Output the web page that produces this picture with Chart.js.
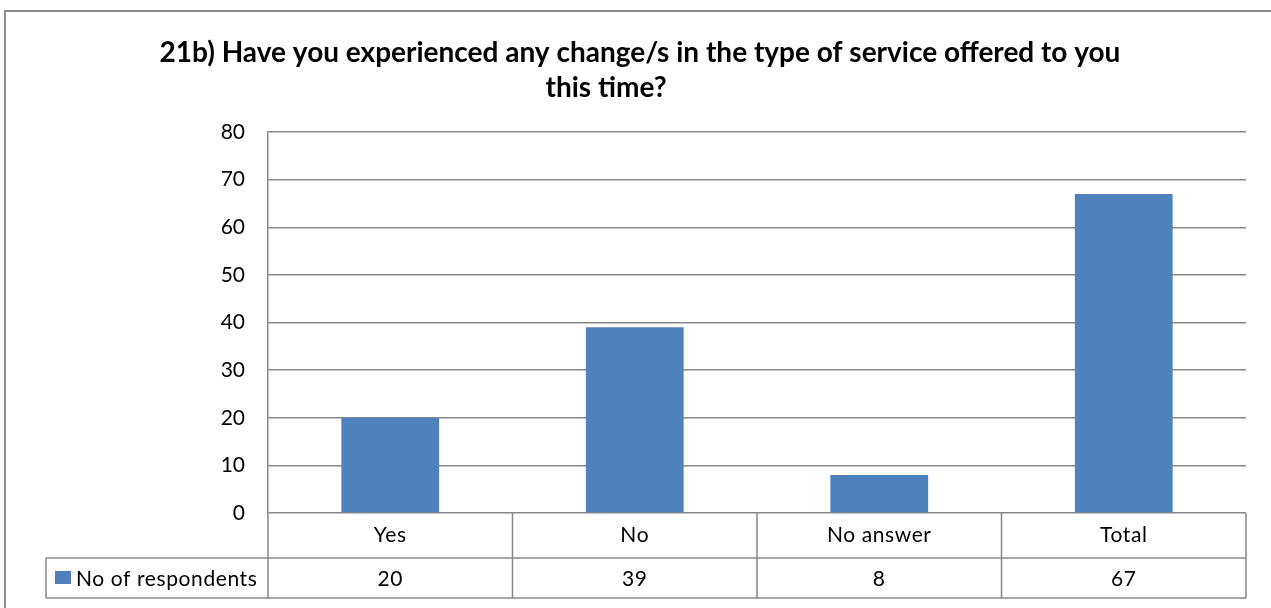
<!DOCTYPE html>
<html>
<head>
<meta charset="utf-8">
<script src="https://cdn.jsdelivr.net/npm/chart.js@4/dist/chart.umd.min.js"></script>
<style>
    html, body { margin: 0; padding: 0; background: #fff; overflow: hidden; }
    #wrap { width: 1271px; height: 608px; position: relative; }
</style>
</head>
<body>
<div id="wrap"><canvas id="chart" width="1271" height="608"></canvas></div>
<script>
// Data
const categories = ['Yes', 'No', 'No answer', 'Total'];
const respondents = [20, 39, 8, 67];
const seriesName = 'No of respondents';
const titleLines = [
    '21b) Have you experienced any change/s in the type of service offered to you',
    'this time?'
];
const yMin = 0, yMax = 80, yStep = 10;

const FONT = 'Lato, "Open Sans", sans-serif';
const BAR_COLOR = '#4f81bd';
const LINE_COLOR = '#888888';

// Frame, title and data table under the plot
const tablePlugin = {
    id: 'dataTable',
    beforeDraw(chart) {
        const ctx = chart.ctx;
        ctx.save();
        ctx.fillStyle = '#fff';
        ctx.fillRect(0, 0, chart.width, chart.height);
        ctx.strokeStyle = '#8c8c8c';
        ctx.lineWidth = 2;
        ctx.strokeRect(5, 11, chart.width + 50, chart.height + 50);
        ctx.restore();
    },
    afterDraw(chart) {
        const { ctx, chartArea: a, scales: { x } } = chart;
        const y0 = a.bottom, y1 = y0 + 45, y2 = y1 + 40;
        const legendLeft = 46;
        const colW = (a.right - a.left) / categories.length;

        ctx.save();
        // title
        ctx.fillStyle = '#000';
        ctx.font = 'bold 28px ' + FONT;
        ctx.textAlign = 'center';
        ctx.textBaseline = 'middle';
        ctx.fillText(titleLines[0], 640, 53);
        ctx.fillText(titleLines[1], 606, 88);

        // table grid
        ctx.strokeStyle = LINE_COLOR;
        ctx.lineWidth = 1.5;
        ctx.beginPath();
        ctx.moveTo(legendLeft, y1); ctx.lineTo(a.right, y1);
        ctx.moveTo(legendLeft, y2); ctx.lineTo(a.right, y2);
        ctx.moveTo(legendLeft, y1); ctx.lineTo(legendLeft, y2);
        ctx.moveTo(a.left, y0); ctx.lineTo(a.left, y2);
        for (let i = 1; i <= categories.length; i++) {
            const cx = a.left + colW * i;
            ctx.moveTo(cx, y0); ctx.lineTo(cx, y2);
        }
        ctx.stroke();

        // category and value cells
        ctx.fillStyle = '#000';
        ctx.font = '21px ' + FONT;
        ctx.letterSpacing = '0.6px';
        categories.forEach((c, i) => {
            const cx = x.getPixelForValue(i);
            ctx.fillText(c, cx, (y0 + y1) / 2);
            ctx.fillText(String(respondents[i]), cx, (y1 + y2) / 2 + 1);
        });

        // legend key
        ctx.fillStyle = BAR_COLOR;
        ctx.fillRect(55, 571, 16, 13);
        ctx.fillStyle = '#000';
        ctx.textAlign = 'left';
        ctx.fillText(seriesName, 76, (y1 + y2) / 2 + 1);
        ctx.restore();
    }
};

new Chart(document.getElementById('chart'), {
    type: 'bar',
    data: {
        labels: categories,
        datasets: [{
            label: seriesName,
            data: respondents,
            backgroundColor: BAR_COLOR,
            borderWidth: 0,
            barPercentage: 0.4,
            categoryPercentage: 1
        }]
    },
    options: {
        responsive: false,
        animation: false,
        devicePixelRatio: 1,
        layout: { padding: { left: 208, top: 132, right: 25, bottom: 95 } },
        plugins: {
            legend: { display: false },
            title: { display: false },
            tooltip: { enabled: false }
        },
        scales: {
            x: { display: false },
            y: {
                min: yMin,
                max: yMax,
                afterFit(axis) { axis.width = 60; },
                ticks: {
                    stepSize: yStep,
                    padding: 23,
                    color: '#000',
                    font: { family: FONT, size: 21 }
                },
                grid: { color: LINE_COLOR, lineWidth: 1.5, drawTicks: false },
                border: { display: true, color: LINE_COLOR, width: 1.5 }
            }
        }
    },
    plugins: [tablePlugin]
});
</script>
</body>
</html>
